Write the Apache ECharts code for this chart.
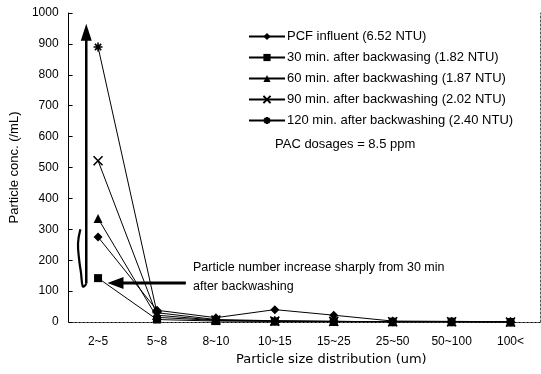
<!DOCTYPE html>
<html>
<head>
<meta charset="utf-8">
<script src="https://cdn.jsdelivr.net/npm/echarts@6/dist/echarts.min.js"></script>
<style>
  html, body { margin: 0; padding: 0; background: #fff; }
  #chart { width: 541px; height: 374px; }
</style>
</head>
<body>
<div id="chart"></div>
<script>
// particle size classes (um)
const sizeClasses = ['2~5', '5~8', '8~10', '10~15', '15~25', '25~50', '50~100', '100<'];

// particle concentration (/mL)
const pcfInfluent = [275, 38, 14, 40, 22, 3, 2, 1];
const after30 = [142, 8, 3, 2, 1, 1, 1, 0];
const after60 = [335, 15, 5, 3, 2, 1, 1, 0];
const after90 = [522, 22, 6, 3, 2, 1, 1, 0];
const after120 = [890, 30, 8, 4, 2, 1, 1, 0];

const seriesNames = [
  'PCF influent (6.52 NTU)',
  '30 min. after backwasing (1.82 NTU)',
  '60 min. after backwashing (1.87 NTU)',
  '90 min. after backwashing (2.02 NTU)',
  '120 min. after backwashing (2.40 NTU)'
];

const FONT = 'Liberation Sans';
const xSymbol = 'path://M0,0 L10,10 M10,0 L0,10';
const starSymbol = 'path://M5,0 L5,10 M0,5 L10,5 M1.5,1.5 L8.5,8.5 M8.5,1.5 L1.5,8.5';

function lineSeries (name, data, symbol, size, stroke) {
  return {
    name: name,
    type: 'line',
    data: data,
    symbol: symbol,
    symbolSize: size,
    showAllSymbol: true,
    xAxisIndex: 0,
    yAxisIndex: 0,
    lineStyle: { color: '#000', width: 1 },
    itemStyle: stroke
      ? { color: '#000', borderColor: '#000', borderWidth: 1.6 }
      : { color: '#000' },
    emphasis: { disabled: true },
    animation: false,
    z: 3
  };
}

const chart = echarts.init(document.getElementById('chart'));

const option = {
  animation: false,
  textStyle: { fontFamily: FONT, color: '#000' },
  grid: { left: 68, right: 1, top: 13, bottom: 52, containLabel: false },
  legend: {
    orient: 'vertical',
    left: 243,
    top: 25,
    itemWidth: 36,
    itemHeight: 9,
    itemGap: 8,
    selectedMode: false,
    textStyle: { fontFamily: FONT, fontSize: 13, color: '#000', padding: [0, 0, 0, -3] },
    data: seriesNames
  },
  xAxis: [
    {
      type: 'category',
      data: sizeClasses,
      boundaryGap: true,
      name: 'Particle size distribution (um)',
      nameLocation: 'middle',
      nameGap: 30,
      nameTextStyle: { fontFamily: 'DejaVu Sans', fontSize: 13, color: '#000', padding: [0, 0, 0, 54] },
      axisLine: { lineStyle: { color: '#000', width: 1 } },
      axisTick: { inside: true, length: 4, lineStyle: { color: '#000' } },
      axisLabel: { fontFamily: FONT, fontSize: 12, color: '#000', margin: 14 },
      splitLine: { show: false }
    },
    {
      type: 'category',
      position: 'top',
      data: sizeClasses,
      axisLine: { lineStyle: { color: '#555', width: 1, type: [2, 2] } },
      axisTick: { show: false },
      axisLabel: { show: false }
    }
  ],
  yAxis: [
    {
      type: 'value',
      min: 0,
      max: 1000,
      interval: 100,
      name: 'Particle conc. (/mL)',
      nameLocation: 'middle',
      nameGap: 37,
      nameTextStyle: { fontFamily: FONT, fontSize: 13, color: '#000' },
      axisLine: { show: true, lineStyle: { color: '#000', width: 1 } },
      axisTick: { show: true, inside: true, length: 4, lineStyle: { color: '#000' } },
      axisLabel: { fontFamily: FONT, fontSize: 12, color: '#000', margin: 10, formatter: v => String(v) },
      splitLine: { show: false }
    },
    {
      type: 'value',
      position: 'right',
      min: 0,
      max: 1000,
      axisLine: { show: true, lineStyle: { color: '#555', width: 1, type: [2, 2] } },
      axisTick: { show: false },
      axisLabel: { show: false },
      splitLine: { show: false }
    }
  ],
  series: [
    lineSeries(seriesNames[0], pcfInfluent, 'diamond', 9, false),
    lineSeries(seriesNames[1], after30, 'rect', 8, false),
    lineSeries(seriesNames[2], after60, 'triangle', 9, false),
    lineSeries(seriesNames[3], after90, xSymbol, 9, true),
    lineSeries(seriesNames[4], after120, starSymbol, 9, true)
  ]
};

chart.setOption(option);

// annotation positions from the axes: category index (may be fractional) and value
function px (idx, val) {
  const a = chart.convertToPixel({ xAxisIndex: 0, yAxisIndex: 0 }, [0, val]);
  const b = chart.convertToPixel({ xAxisIndex: 0, yAxisIndex: 0 }, [1, val]);
  return [a[0] + (b[0] - a[0]) * idx, a[1]];
}

const shaftTop = px(-0.2, 925);
const shaftBot = px(-0.2, 125);
const headTip = px(-0.2, 965);
const hArrowFrom = px(1.49, 126);
const hArrowTip = px(0.16, 126);

chart.setOption({
  graphic: [
    // hand-drawn bracket on the left
    {
      type: 'polyline',
      shape: {
        points: [px(-0.3, 300), px(-0.34, 255), px(-0.32, 200), px(-0.29, 160), px(-0.26, 115), px(-0.22, 118), shaftBot],
        smooth: 0.4
      },
      style: { stroke: '#000', lineWidth: 2.2, fill: null },
      z: 10
    },
    // vertical arrow
    {
      type: 'line',
      shape: { x1: shaftBot[0], y1: shaftBot[1], x2: shaftTop[0], y2: shaftTop[1] },
      style: { stroke: '#000', lineWidth: 2.5 },
      z: 10
    },
    {
      type: 'polygon',
      shape: { points: [headTip, [headTip[0] - 5.5, headTip[1] + 17], [headTip[0] + 5.5, headTip[1] + 17]] },
      style: { fill: '#000' },
      z: 10
    },
    // horizontal arrow
    {
      type: 'line',
      shape: { x1: hArrowFrom[0], y1: hArrowFrom[1], x2: hArrowTip[0] + 14, y2: hArrowTip[1] },
      style: { stroke: '#000', lineWidth: 3 },
      z: 10
    },
    {
      type: 'polygon',
      shape: { points: [hArrowTip, [hArrowTip[0] + 16, hArrowTip[1] - 6], [hArrowTip[0] + 16, hArrowTip[1] + 6]] },
      style: { fill: '#000' },
      z: 10
    },
    {
      type: 'text',
      left: 193,
      top: 258,
      style: {
        text: 'Particle number increase sharply from 30 min\nafter backwashing',
        font: '12.5px "Liberation Sans"',
        lineHeight: 19,
        fill: '#000'
      },
      z: 10
    },
    {
      type: 'text',
      left: 275,
      top: 138,
      style: {
        text: 'PAC dosages = 8.5 ppm',
        font: '13px "Liberation Sans"',
        fill: '#000'
      },
      z: 10
    }
  ]
});
</script>
</body>
</html>
